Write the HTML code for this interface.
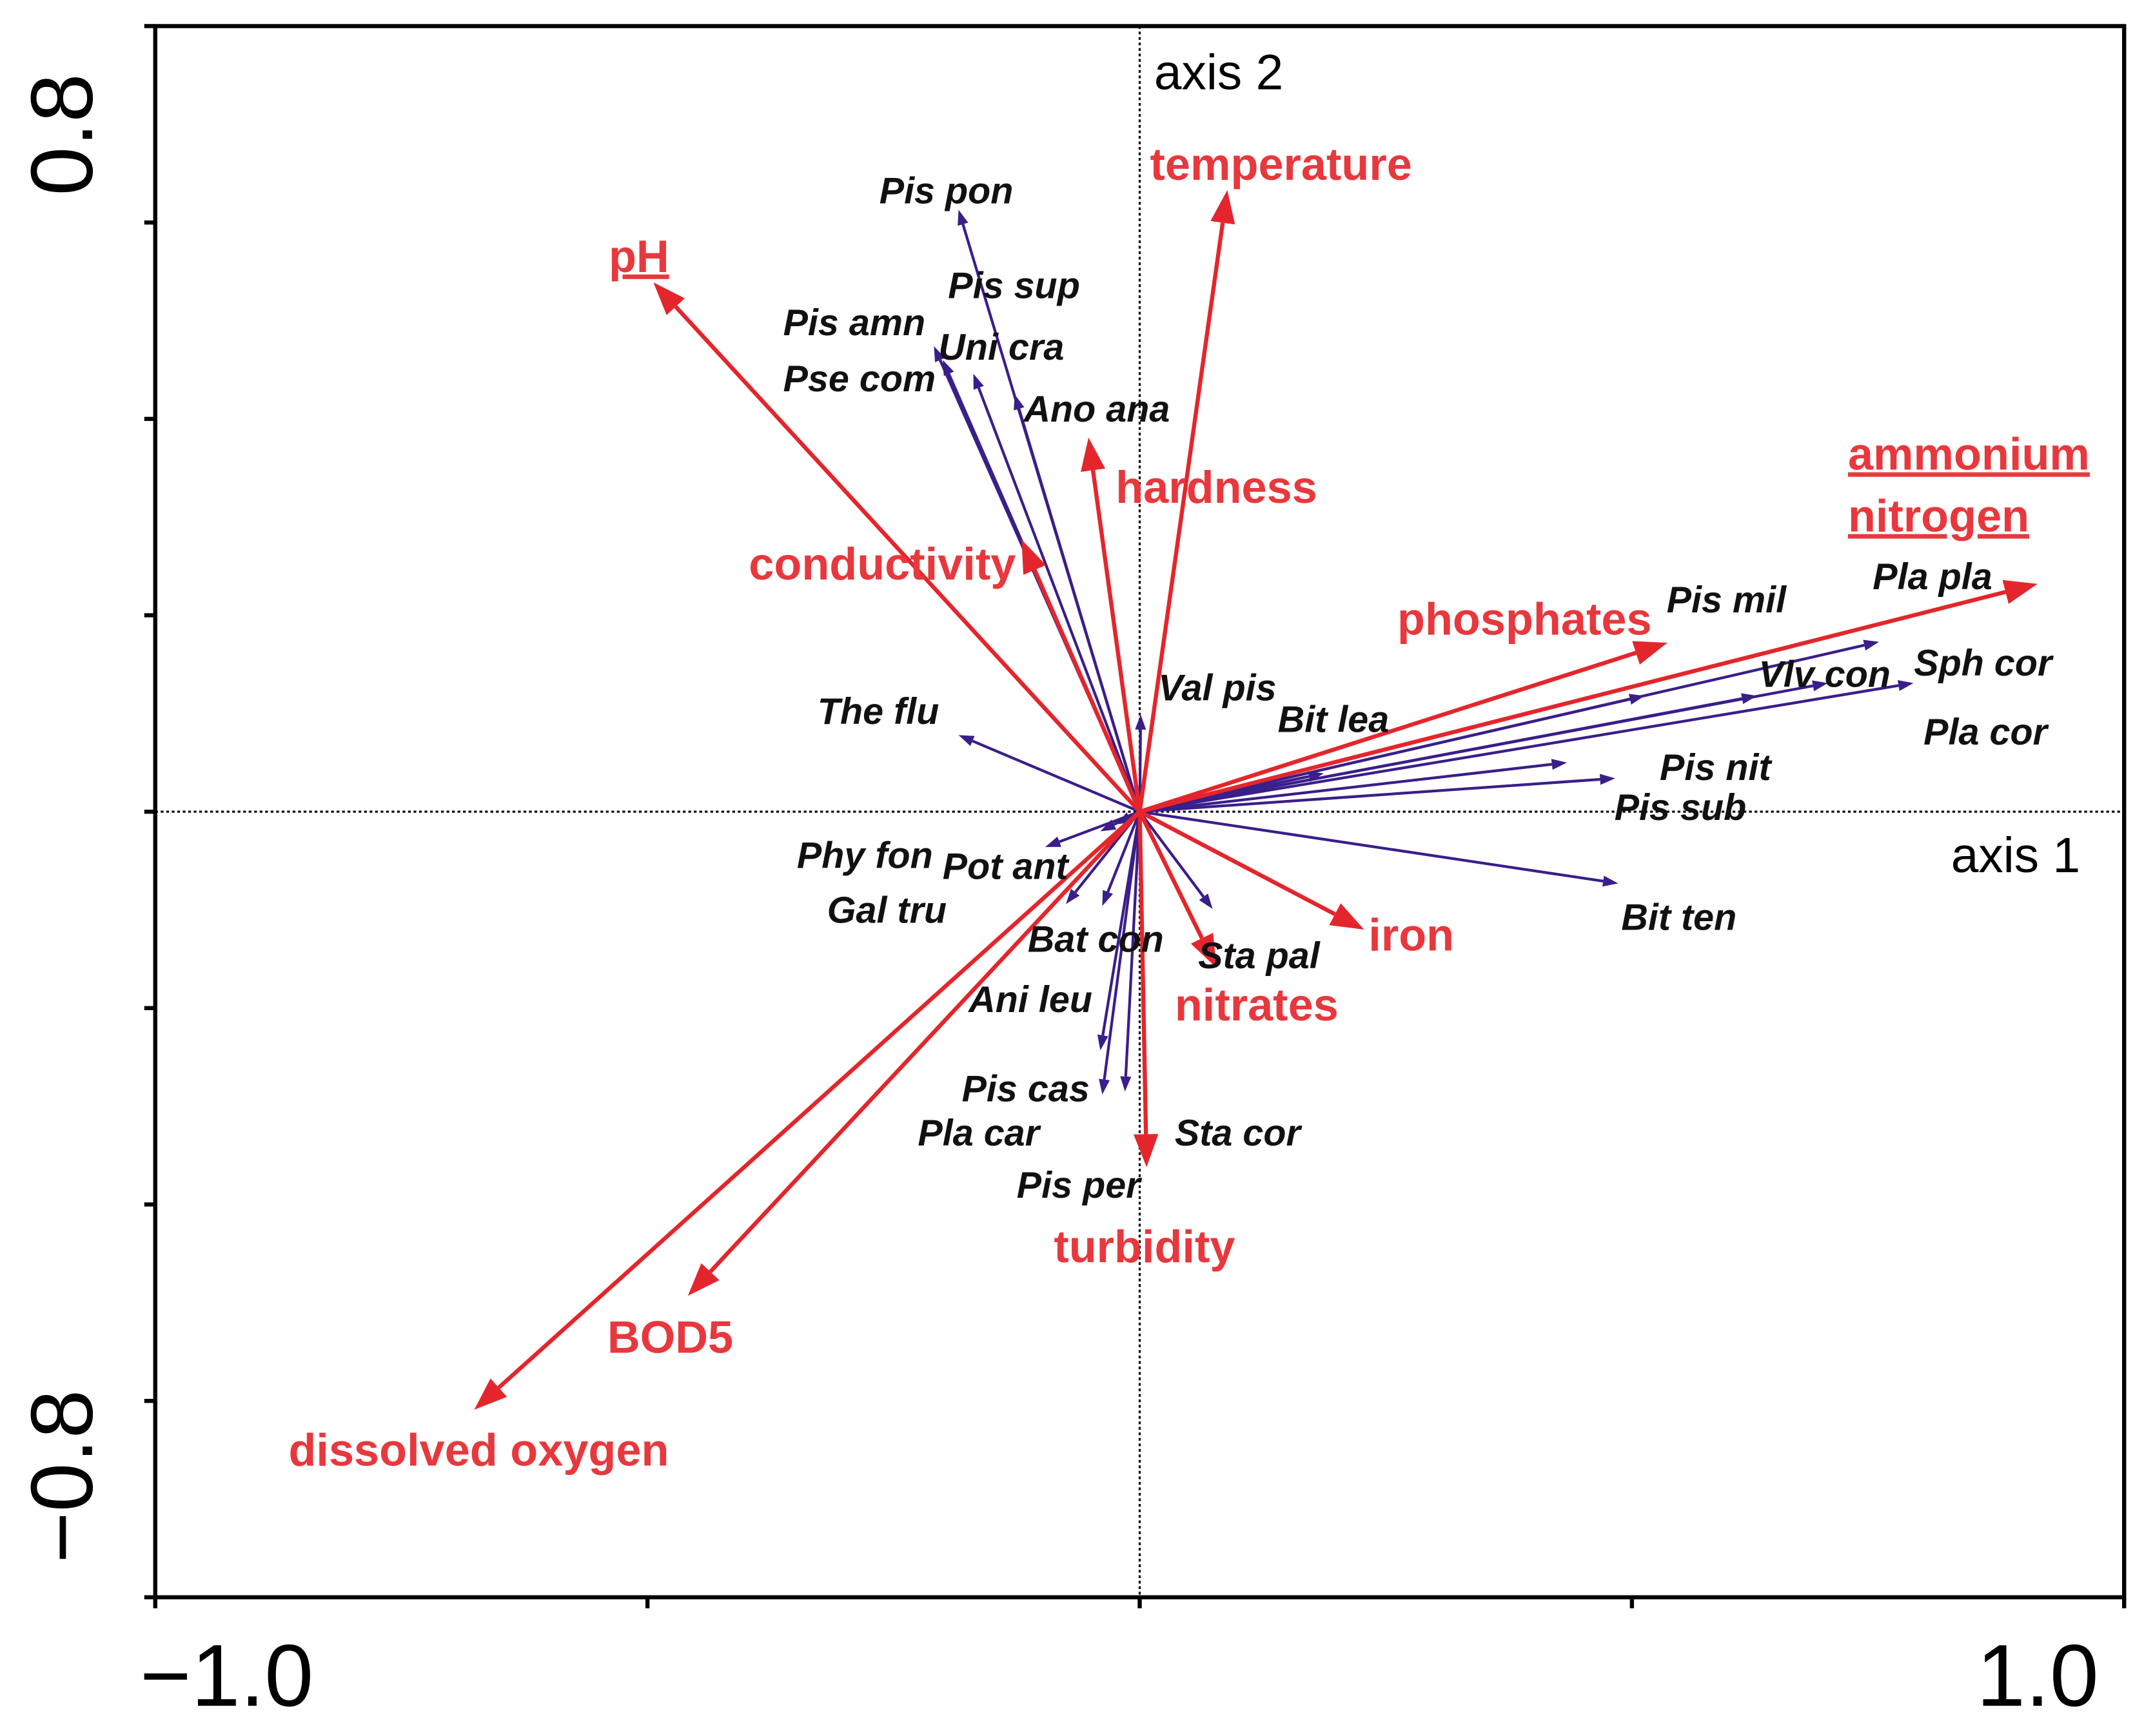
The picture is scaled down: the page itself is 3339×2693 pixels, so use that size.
<!DOCTYPE html>
<html><head><meta charset="utf-8"><style>html,body{margin:0;padding:0;background:#fff}svg{display:block}</style></head>
<body>
<svg id="chart" xmlns="http://www.w3.org/2000/svg" width="3339" height="2693" viewBox="0 0 1567 1264" preserveAspectRatio="none" font-family="Liberation Sans, Arial, sans-serif">
<rect x="0" y="0" width="1567" height="1264" fill="#fff"/>
<g id="axes"></g>
<g id="marks"></g>
<g id="labels"></g>
</svg>
<script>
// environmental variables (red)
const envNames = ["temperature","pH","hardness","conductivity","ammonium nitrogen","phosphates","iron","nitrates","turbidity","BOD5","dissolved oxygen"];
const envX = [0.089,-0.494,-0.052,-0.120,0.912,0.536,0.228,0.078,0.007,-0.459,-0.676];
const envY = [0.633,0.539,0.381,0.277,0.232,0.172,-0.120,-0.159,-0.362,-0.493,-0.609];
// species (blue)
const spX = [-0.184,-0.209,-0.200,-0.169,-0.127,0.001,-0.184,0.751,0.786,0.699,0.513,0.627,0.187,0.434,0.483,0.486,-0.096,-0.040,-0.024,-0.075,-0.038,0.074,-0.040,-0.038,-0.015];
const spY = [0.613,0.474,0.460,0.446,0.425,0.099,0.078,0.173,0.131,0.131,0.118,0.118,0.039,0.050,0.034,-0.073,-0.036,-0.020,-0.013,-0.094,-0.096,-0.099,-0.243,-0.288,-0.285];
const xTicks = [-1.0,-0.5,0,0.5,1.0];
const yTicks = [-0.8,-0.6,-0.4,-0.2,0,0.2,0.4,0.6,0.8];
const NS="http://www.w3.org/2000/svg";
const L=113,R=1546,T=19,B=1163;
function sx(v){return L+(v+1)/2*(R-L);}
function sy(v){return 591-v*(B-T)/1.6;}
function mk(tag,attrs,parent){const e=document.createElementNS(NS,tag);for(const k in attrs)e.setAttribute(k,attrs[k]);parent.appendChild(e);return e;}
const axes=document.getElementById('axes'),marks=document.getElementById('marks'),labs=document.getElementById('labels');
let fr=mk('rect',{x:L,y:T,width:R-L,height:B-T,fill:'none',stroke:'#000','stroke-width':3},axes);


let zx=mk('line',{x1:L,x2:R,y1:sy(0),y2:sy(0),stroke:'#000','stroke-width':1.5,'stroke-dasharray':'2,2'},axes);


let zy=mk('line',{x1:sx(0),x2:sx(0),y1:T,y2:B,stroke:'#000','stroke-width':1.5,'stroke-dasharray':'2,2'},axes);


xTicks.forEach(v=>{let t=mk('line',{x1:sx(v),x2:sx(v),y1:B,y2:B+8,stroke:'#000','stroke-width':3},axes);

});
yTicks.forEach(v=>{let t=mk('line',{x1:L-8,x2:L,y1:sy(v),y2:sy(v),stroke:'#000','stroke-width':3},axes);

});
function txt(s,x,y,opts,parent,name){const e=mk('text',Object.assign({x:x,y:y},opts),parent);e.textContent=s;

return e;}
txt('\u22121.0',165,1242,{'font-size':64,'text-anchor':'middle'},axes,'x-tick-label-min');
txt('1.0',1483,1242,{'font-size':64,'text-anchor':'middle'},axes,'x-tick-label-max');
txt('0.8',0,0,{'font-size':64,'text-anchor':'middle',transform:'translate(67,98) rotate(-90)'},axes,'y-tick-label-max');
txt('\u22120.8',0,0,{'font-size':64,'text-anchor':'middle',transform:'translate(67,1075) rotate(-90)'},axes,'y-tick-label-min');
txt('axis 2',840,65,{'font-size':36},axes,'axis-2-title');
txt('axis 1',1420,635,{'font-size':36},axes,'axis-1-title');
function arrow(x,y,color,w,hl,hw,name){
  const x0=sx(0),y0=sy(0),x1=sx(x),y1=sy(y);
  const dx=x1-x0,dy=y1-y0,len=Math.hypot(dx,dy),ux=dx/len,uy=dy/len;
  const bx=x1-ux*hl,by=y1-uy*hl;
  const g=mk('g',{},marks);
  
  
  mk('line',{x1:x0,y1:y0,x2:bx,y2:by,stroke:color,'stroke-width':w},g);
  mk('polygon',{points:`${x1},${y1} ${bx-uy*hw},${by+ux*hw} ${bx+uy*hw},${by-ux*hw}`,fill:color},g);
}
spX.forEach((v,i)=>arrow(v,spY[i],'#3a1e8a',2,11,4,'species-arrow'));
envX.forEach((v,i)=>arrow(v,envY[i],'#e4262c',3,24,9,'env-arrow-'+envNames[i].replace(/ /g,'-').toLowerCase()));
const sp=[["Pis pon",640,148],["Pis sup",690,217],["Pis amn",570,244],["Uni cra",683,262],["Pse com",570,285],["Ano ana",745,307],["Val pis",843,510],["Bit lea",930,533],["The flu",595,527],["Pis mil",1213,446],["Pla pla",1363,429],["Sph cor",1393,492],["Vlv con",1280,500],["Pla cor",1400,542],["Pis nit",1208,568],["Pis sub",1175,597],["Bit ten",1180,677],["Phy fon",580,632],["Pot ant",686,640],["Gal tru",602,672],["Bat con",748,693],["Sta pal",872,705],["Ani leu",705,737],["Pis cas",700,802],["Pla car",668,834],["Sta cor",855,834],["Pis per",740,872]];
sp.forEach(s=>txt(s[0],s[1],s[2],{'font-size':27,'font-weight':'bold','font-style':'italic',fill:'#111'},labs,'species-label'));
const el=[["temperature",837,131,false],["pH",443,198,true],["hardness",812,366,false],["conductivity",545,422,false],["ammonium",1345,342,true],["nitrogen",1345,387,true],["phosphates",1017,462,false],["iron",996,692,false],["nitrates",855,743,false],["turbidity",767,919,false],["BOD5",442,985,false],["dissolved oxygen",210,1067,false]];
el.forEach(s=>{const e=txt(s[0],s[1],s[2],{'font-size':33,'font-weight':'bold',fill:'#e8383d'},labs,'env-label');
 if(s[3]) e.setAttribute('text-decoration','underline');});
</script>
</body></html>
